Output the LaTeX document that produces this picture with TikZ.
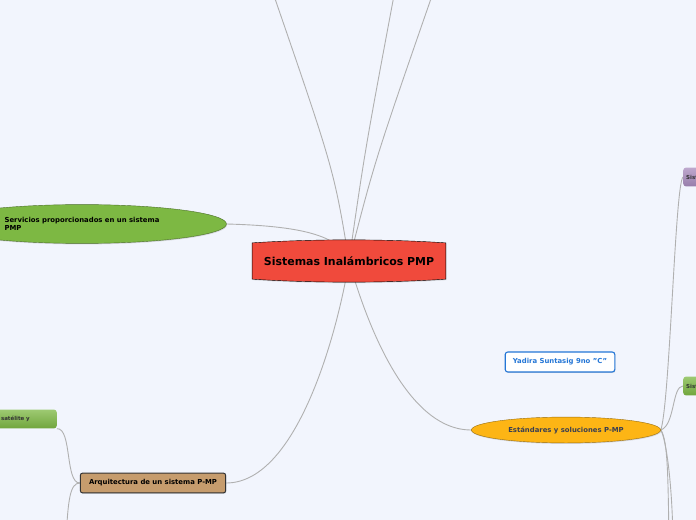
\documentclass[tikz,border=0pt]{standalone}
\usepackage{fontspec}
\setmainfont{DejaVu Sans}
\usetikzlibrary{shapes.geometric, shadows, backgrounds}
\definecolor{cbg}{HTML}{F2F5FD}
\definecolor{clink}{HTML}{B0B0B0}
\definecolor{cred}{HTML}{F04A3C}
\definecolor{cgreen}{HTML}{7DB843}
\definecolor{corange}{HTML}{FDB515}
\definecolor{cbrown}{HTML}{C69C6D}
\definecolor{cblue}{HTML}{2476D6}
\definecolor{cpurple}{HTML}{A88BBD}
\definecolor{cleaf}{HTML}{7DB843}
\definecolor{cink}{HTML}{3A3F52}
\pgfdeclarelayer{edges}
\pgfdeclarelayer{shapes}
\pgfsetlayers{background,edges,shapes,main}
\tikzset{
  every picture/.style={line width=0.8pt},
  small/.style={font=\fontsize{6.9}{8}\selectfont\bfseries},
  link/.style={draw=clink, line width=0.9pt},
  soft/.style={drop shadow={opacity=0.25, shadow xshift=0.6pt, shadow yshift=-1pt}},
  hub/.style={font=\fontsize{11}{13}\selectfont\bfseries, minimum width=194, minimum height=36, inner sep=0pt},
  oval/.style={ellipse, draw=#1!60!black, fill=#1, soft, inner sep=0pt, small},
  tag/.style={rectangle, rounded corners=2.5pt, draw=#1!55!black, fill=#1, soft, inner sep=0pt, small},
  leaf/.style={rectangle, rounded corners=3pt, top color=#1!75!white, bottom color=#1!90!black, draw=none,
    inner sep=0pt, minimum height=19, font=\fontsize{5.5}{6.5}\selectfont\bfseries, text=black!80},
}

\begin{document}
\begin{tikzpicture}[x=1bp, y=-1bp]
  \useasboundingbox (0,0) rectangle (696,520);
  \begin{pgfonlayer}{background}
    \fill[cbg] (0,0) rectangle (696,520);
  \end{pgfonlayer}
  % central topic
  \node[hub] (hub) at (349,261) {Sistemas Inalámbricos PMP};
  \begin{pgfonlayer}{shapes}
    \draw[fill=cred, draw=black, soft] (hub.north west) .. controls +(60,-4) and +(-60,-4) .. (hub.north east)
      -- (hub.south east) .. controls +(-60,4) and +(60,4) .. (hub.south west) -- cycle;
  \end{pgfonlayer}
  % branches
  \node[oval=cgreen, minimum width=290, minimum height=39, align=left] (servicios) at (82,224)
    {Servicios proporcionados en un sistema\\PMP};
  \node[oval=corange, minimum width=190, minimum height=26, text=cink] (estandares) at (566,430)
    {Estándares y soluciones P-MP};
  \node[tag=cbrown, draw=black!80, line width=1pt, minimum width=146, minimum height=20] (arquitectura) at (153,483)
    {Arquitectura de un sistema P-MP};
  \node[tag=white, draw=cblue, line width=1.1pt, text=cblue, minimum width=110, minimum height=20] (autor) at (560,362)
    {Yadira Suntasig 9no "C"};
  % sub topics cut by the border
  \node[leaf=cleaf, anchor=east, minimum width=69, text width=65, align=left] (satelite) at (57,419)
    {vía satélite y};
  \node[leaf=cpurple, anchor=west, minimum width=40, text width=34, align=left] (sisA) at (683,177) {Sistemas};
  \node[leaf=cleaf, anchor=west, minimum width=40, text width=34, align=left] (sisB) at (683,386) {Sistemas};
  \coordinate (upA) at (272,-10);
  \coordinate (upB) at (395,-10);
  \coordinate (upC) at (434,-10);
  \coordinate (downA) at (66,540);
  \coordinate (downB) at (669,540);
  \coordinate (downC) at (673,540);
  \begin{pgfonlayer}{edges}
    \draw[link] (hub.center) .. controls (334,170) .. (upA);
    \draw[link] (hub.center) .. controls (365,150) .. (upB);
    \draw[link] (hub.center) .. controls (375,160) .. (upC);
    \draw[link] (servicios.east) .. controls (300,226) and (340,235) .. (hub.center);
    \draw[link] (estandares.west) .. controls (400,430) and (360,300) .. (hub.center);
    \draw[link] (arquitectura.east) .. controls (300,483) and (340,320) .. (hub.center);
    \draw[link] (satelite.south east) .. controls (72,428) and (65,483) .. (arquitectura.west);
    \draw[link] (arquitectura.west) .. controls (70,483) and (68,500) .. (downA);
    \draw[link] (estandares.east) .. controls (670,400) and (675,185) .. (sisA.west);
    \draw[link] (estandares.east) .. controls (675,425) and (672,386) .. (sisB.west);
    \draw[link] (estandares.east) .. controls (668,440) and (668,480) .. (downB);
    \draw[link] (estandares.east) .. controls (666,440) and (672,480) .. (downC);
  \end{pgfonlayer}
\end{tikzpicture}
\end{document}
